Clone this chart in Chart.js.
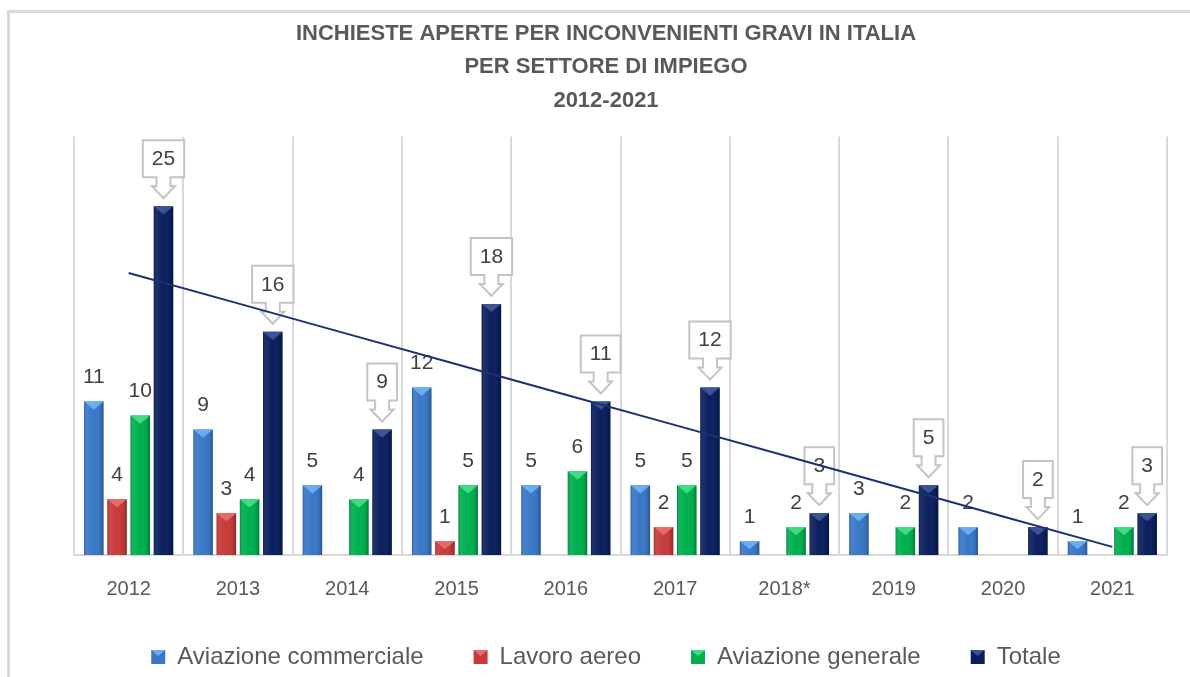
<!DOCTYPE html>
<html><head><meta charset="utf-8">
<script src="https://cdn.jsdelivr.net/npm/chart.js@4.4.1/dist/chart.umd.min.js"></script>
<style>
html,body{margin:0;padding:0;background:#fff;width:1190px;height:677px;overflow:hidden}
#wrap{position:relative;width:1190px;height:677px;background:#fff}
#frame{position:absolute;left:7px;top:10px;right:-10px;bottom:-10px;border-left:3px solid #d9d9d9;border-top:3px solid #d9d9d9;pointer-events:none}
canvas{position:absolute;left:0;top:0}
</style></head><body>
<div id="wrap"><div id="frame"></div><canvas id="c" width="1190" height="677"></canvas></div>
<script>
const categories = ['2012','2013','2014','2015','2016','2017','2018*','2019','2020','2021'];
const aviazioneCommerciale = [11, 9, 5, 12, 5, 5, 1, 3, 2, 1];
const lavoroAereo = [4, 3, null, 1, null, 2, null, null, null, null];
const aviazioneGenerale = [10, 4, 4, 5, 6, 5, 2, 2, null, 2];
const totale = [25, 16, 9, 18, 11, 12, 3, 5, 2, 3];
const titleLines = ['INCHIESTE APERTE PER INCONVENIENTI GRAVI IN ITALIA', 'PER SETTORE DI IMPIEGO', '2012-2021'];

// linear trendline (least squares) of the Totale series, as in the spreadsheet
function linearTrend(vals) {
  const n = vals.length;
  let sx = 0, sy = 0, sxx = 0, sxy = 0;
  vals.forEach((v, i) => { sx += i; sy += v; sxx += i * i; sxy += i * v; });
  const slope = (n * sxy - sx * sy) / (n * sxx - sx * sx);
  const intercept = (sy - slope * sx) / n;
  return vals.map((_, i) => intercept + slope * i);
}
const trendTotale = linearTrend(totale);

const FONT = '"Liberation Sans", Arial, sans-serif';
Chart.defaults.font.family = FONT;

const labelPlugin = {
  id: 'valueLabels',
  beforeDatasetsDraw(chart) {
    const ctx = chart.ctx;
    ctx.save();
    ctx.font = '21px ' + FONT;
    ctx.textAlign = 'center';
    ctx.textBaseline = 'middle';
    chart.data.datasets.forEach((ds, di) => {
      if (ds.type === 'line') return;
      const meta = chart.getDatasetMeta(di);
      meta.data.forEach((bar, i) => {
        const v = ds.data[i];
        if (v == null) return;
        const x = bar.x, T = bar.y;
        const txt = String(v);
        if (ds.callout) {
          const tw = ctx.measureText(txt).width;
          const hw = tw / 2 + 9;
          ctx.beginPath();
          ctx.moveTo(x - hw, T - 66); ctx.lineTo(x + hw, T - 66); ctx.lineTo(x + hw, T - 29);
          ctx.lineTo(x + 7, T - 29); ctx.lineTo(x + 7, T - 20); ctx.lineTo(x + 11.5, T - 20);
          ctx.lineTo(x, T - 8); ctx.lineTo(x - 11.5, T - 20); ctx.lineTo(x - 7, T - 20);
          ctx.lineTo(x - 7, T - 29); ctx.lineTo(x - hw, T - 29); ctx.closePath();
          ctx.fillStyle = '#ffffff'; ctx.fill();
          ctx.lineWidth = 2; ctx.strokeStyle = '#c4c4c4'; ctx.stroke();
          ctx.fillStyle = '#404040';
          ctx.fillText(txt, x, T - 47);
        } else {
          ctx.fillStyle = '#404040';
          ctx.fillText(txt, x, T - 24);
        }
      });
    });
    ctx.restore();
  },
  afterDatasetDraw(chart, args) {
    const meta = args.meta;
    if (meta.type !== 'bar') return;
    const ds = chart.data.datasets[args.index];
    const ctx = chart.ctx;
    ctx.save();
    meta.data.forEach((bar, i) => {
      if (ds.data[i] == null) return;
      const p = bar.getProps(['x', 'y', 'base', 'width'], true);
      const l = p.x - p.width / 2, r = p.x + p.width / 2;
      const g = ctx.createLinearGradient(l, 0, r, 0);
      g.addColorStop(0, 'rgba(0,0,0,0.22)');
      g.addColorStop(0.15, 'rgba(255,255,255,0.07)');
      g.addColorStop(0.5, 'rgba(255,255,255,0)');
      g.addColorStop(0.85, 'rgba(0,0,0,0.08)');
      g.addColorStop(1, 'rgba(0,0,0,0.3)');
      ctx.fillStyle = g;
      ctx.fillRect(l, p.y, p.width, p.base - p.y);
      const d = Math.min(p.width * 0.42, p.base - p.y);
      ctx.beginPath();
      ctx.moveTo(l, p.y); ctx.lineTo(r, p.y); ctx.lineTo(p.x, p.y + d); ctx.closePath();
      ctx.fillStyle = ds.bevelColor;
      ctx.fill();
    });
    ctx.restore();
  },
  afterDraw(chart) {
    // bevel accent on legend markers
    const lg = chart.legend;
    if (!lg || !lg.legendHitBoxes) return;
    const ctx = chart.ctx;
    const items = lg.legendItems;
    ctx.save();
    lg.legendHitBoxes.forEach((hb, i) => {
      const ds = chart.data.datasets[items[i].datasetIndex];
      if (!ds || !ds.bevelColor) return;
      const bw = 14, bh = 14;
      const l = hb.left, t = hb.top + (hb.height - bh) / 2;
      ctx.beginPath();
      ctx.moveTo(l, t); ctx.lineTo(l + bw, t); ctx.lineTo(l + bw / 2, t + 6); ctx.closePath();
      ctx.fillStyle = ds.bevelColor; ctx.fill();
    });
    ctx.restore();
  }
};

const barCommon = { categoryPercentage: 0.85, barPercentage: 0.84, borderWidth: 0 };

new Chart(document.getElementById('c'), {
  type: 'bar',
  data: {
    labels: categories,
    datasets: [
      { type: 'line', label: 'Lineare (Totale)', data: trendTotale, borderColor: '#1b3270', borderWidth: 2,
        pointRadius: 0, fill: false, order: -1, tension: 0 },
      Object.assign({ label: 'Aviazione commerciale', data: aviazioneCommerciale, backgroundColor: '#3a78c6', bevelColor: '#69adf3' }, barCommon),
      Object.assign({ label: 'Lavoro aereo', data: lavoroAereo, backgroundColor: '#c83a3a', bevelColor: '#ea6a6a' }, barCommon),
      Object.assign({ label: 'Aviazione generale', data: aviazioneGenerale, backgroundColor: '#00b04f', bevelColor: '#40dc84' }, barCommon),
      Object.assign({ label: 'Totale', data: totale, backgroundColor: '#0b1f5e', bevelColor: '#3c5396', callout: true }, barCommon)
    ]
  },
  options: {
    responsive: false,
    animation: false,
    devicePixelRatio: 1,
    layout: { padding: { left: 45, right: 23, top: 0, bottom: -2 } },
    scales: {
      x: {
        grid: { display: true, color: '#d9d9d9', lineWidth: 2, drawTicks: false, offset: true },
        border: { display: true, color: '#d9d9d9', width: 2 },
        ticks: { color: '#595959', font: { size: 20 }, padding: 22 },
        afterFit(s) { s.height = 40; }
      },
      y: {
        min: 0, max: 30,
        ticks: { display: false },
        grid: { display: false },
        border: { display: false },
        afterFit(s) { s.width = 29; }
      }
    },
    plugins: {
      title: {
        display: true, text: titleLines, color: '#595959',
        font: { size: 22, weight: 'bold', lineHeight: 1.523 },
        padding: { top: 17, bottom: 19 }
      },
      legend: {
        position: 'bottom',
        labels: {
          color: '#595959', font: { size: 24 }, boxWidth: 14, boxHeight: 14, padding: 50,
          filter: item => item.text !== 'Lineare (Totale)'
        }
      },
      tooltip: { enabled: false }
    }
  },
  plugins: [labelPlugin]
});
</script>
</body></html>
